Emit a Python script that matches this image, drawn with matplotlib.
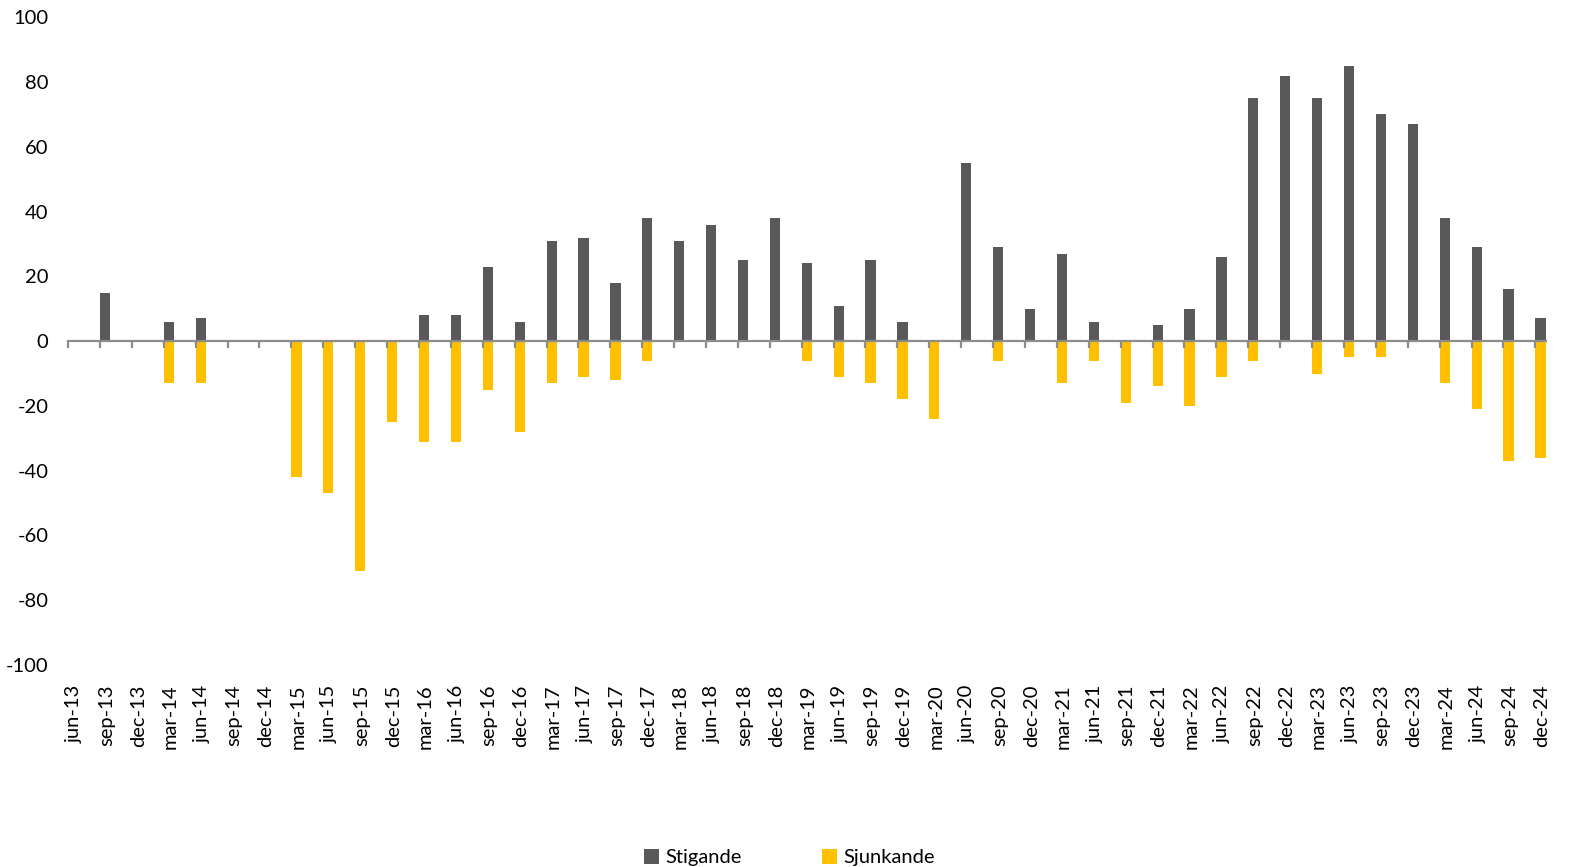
import matplotlib.pyplot as plt
import numpy as np

plt.rcParams['font.family'] = ['Lato', 'DejaVu Sans']
plt.rcParams['axes.unicode_minus'] = False

QUARTERS = ['jun', 'sep', 'dec', 'mar']
YEARS = ['13', '13', '13'] + [str(y) for y in range(14, 25) for _ in range(4)]

# quarterly labels jun-13 .. dec-24
labels = []
q = 0
for y in YEARS:
    labels.append(QUARTERS[q % 4] + '-' + y)
    q += 1

stigande = [0, 15, 0, 6, 7, 0, 0, 0, 0, 0, 0, 8, 8, 23, 6,
            31, 32, 18, 38, 31, 36, 25, 38, 24, 11, 25, 6, 0, 55, 29, 10,
            27, 6, 0, 5, 10, 26, 75, 82, 75, 85, 70, 67, 38, 29, 16, 7]
sjunkande = [0, 0, 0, -13, -13, 0, 0, -42, -47, -71, -25, -31, -31, -15, -28,
             -13, -11, -12, -6, 0, 0, 0, 0, -6, -11, -13, -18, -24, 0, -6, 0,
             -13, -6, -19, -14, -20, -11, -6, 0, -10, -5, -5, 0, -13, -21, -37, -36]

GRAY = '#595959'
YELLOW = '#FFC000'
AXIS = '#8c8c8c'


def main():
    x = np.arange(len(labels))
    fig = plt.figure(figsize=(15.79, 8.67), dpi=100)
    ax = fig.add_axes([0.0431, 0.233, 0.9359, 0.747])

    ax.bar(x, stigande, width=0.32, align='edge', color=GRAY, label='Stigande')
    ax.bar(x, sjunkande, width=0.32, align='edge', color=YELLOW, label='Sjunkande')

    ax.set_ylim(-100, 100)
    ax.set_xlim(0, 46.33)
    ax.set_yticks(np.arange(-100, 101, 20))
    ax.tick_params(axis='y', length=0, pad=14, labelsize=14.5)

    for side in ['left', 'right', 'top']:
        ax.spines[side].set_visible(False)
    ax.spines['bottom'].set_position(('data', 0))
    ax.spines['bottom'].set_color(AXIS)
    ax.spines['bottom'].set_linewidth(1.6)
    ax.set_xticks(x)
    ax.tick_params(axis='x', length=5, width=1.6, color=AXIS, labelbottom=False)

    sec = ax.secondary_xaxis(0)
    sec.set_xticks(x + 0.2, labels, rotation=90)
    sec.tick_params(length=0, pad=14, labelsize=14.5)
    sec.spines['bottom'].set_visible(False)

    ax.legend(loc='center', bbox_to_anchor=(0.5, 0.011), bbox_transform=fig.transFigure,
              ncol=2, frameon=False, fontsize=14.5, handlelength=0.75, handleheight=0.75,
              handletextpad=0.3, columnspacing=4)

    fig.savefig('out.png', dpi=100)


main()
